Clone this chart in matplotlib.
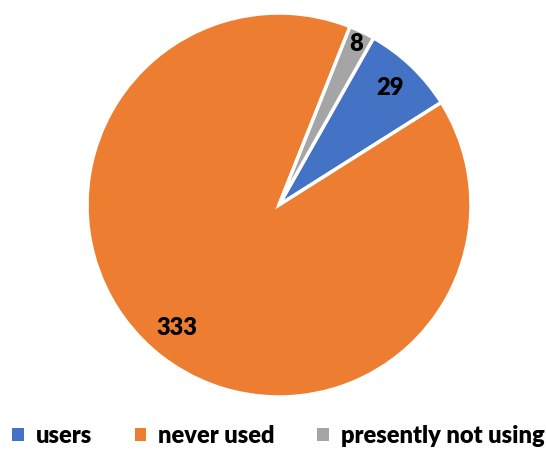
import numpy as np
import matplotlib
matplotlib.use("Agg")
import matplotlib.pyplot as plt
from matplotlib.patches import Patch

categories = ["users", "never used", "presently not using"]
values = [29, 333, 8]
colors = ["#4472C4", "#ED7D31", "#A5A5A5"]
label_dist = [0.84, 0.83, 0.93]

plt.rcParams['font.family'] = ['Lato', 'DejaVu Sans']

fig = plt.figure(figsize=5.46 * np.array([1, 450 / 546]), dpi=100)
ax = fig.add_axes([87 / 546, 53 / 450, 384 / 546, 384 / 450])
wedges, _ = ax.pie(values, colors=colors, startangle=60.5, counterclock=False,
                   radius=1.0, wedgeprops=dict(edgecolor="white", linewidth=2.5))
ax.set_xlim(-1, 1)
ax.set_ylim(-1, 1)
ax.set_aspect("equal")
ax.axis("off")

for w, v, d in zip(wedges, values, label_dist):
    ang = np.deg2rad((w.theta1 + w.theta2) / 2)
    ax.text(d * np.cos(ang), d * np.sin(ang), str(v), ha="center", va="center",
            fontsize=17, fontweight="heavy", color="black")

handles = [Patch(facecolor=c, edgecolor="none") for c in colors]
fig.legend(handles, categories, loc="center", bbox_to_anchor=(0.51, 1 - 436 / 450),
           ncol=3, frameon=False, handlelength=0.5, handleheight=0.5,
           handletextpad=0.5, columnspacing=1.8,
           prop=dict(family=['Lato', 'DejaVu Sans'], weight="heavy", size=17))

fig.savefig("out.png", dpi=100)
